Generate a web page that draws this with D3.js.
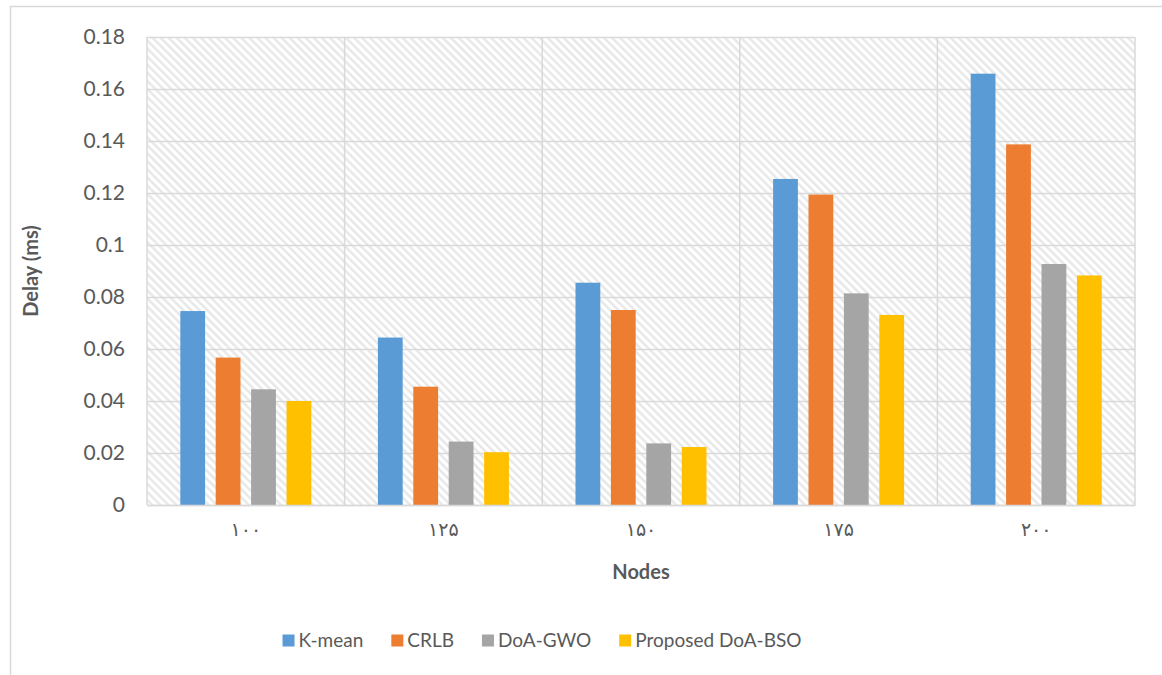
<!DOCTYPE html>
<html><head><meta charset="utf-8">
<script src="https://cdn.jsdelivr.net/npm/d3@7"></script>
<style>
html,body{margin:0;padding:0;background:#fff;}
svg{display:block;}
</style></head>
<body>
<svg id="chart" width="1162" height="675"></svg>
<script>
const categories = ["۱۰۰","۱۲۵","۱۵۰","۱۷۵","۲۰۰"];
const series = ["K-mean","CRLB","DoA-GWO","Proposed DoA-BSO"];
const kmean = [0.0746,0.0644,0.0855,0.1254,0.1659];
const crlb  = [0.0567,0.0455,0.0750,0.1194,0.1387];
const gwo   = [0.0445,0.0244,0.0237,0.0814,0.0927];
const bso   = [0.0400,0.0203,0.0223,0.0731,0.0883];
const yTicks = [0,0.02,0.04,0.06,0.08,0.1,0.12,0.14,0.16,0.18];
const colors = ["#5b9bd5","#ed7d31","#a5a5a5","#ffc000"];
const yTitle = "Delay (ms)";
const xTitle = "Nodes";

const values = [kmean, crlb, gwo, bso];
const svg = d3.select("#chart");
const font = "Lato, 'Open Sans', sans-serif";
const textCol = "#595959";
const gridCol = "#d9d9d9";

// outer chart border
svg.append("rect").attr("x",10.5).attr("y",6.5).attr("width",1200).attr("height",700)
  .attr("fill","#fff").attr("stroke",gridCol).attr("stroke-width",1.5);

const L=147, R=1135, T=37, B=505;
const x0 = d3.scaleBand().domain(categories).range([L,R]).padding(0);
const bw = x0.bandwidth();
const x1 = d3.scaleBand().domain(series).range([bw*0.1685, bw*0.8315]).paddingInner(0.3);
const y = d3.scaleLinear().domain([0,0.18]).range([B,T]);

// hatch pattern
const defs = svg.append("defs");
const pat = defs.append("pattern").attr("id","hatch").attr("patternUnits","userSpaceOnUse")
  .attr("width",5.7).attr("height",5.7).attr("patternTransform","rotate(-45)");
pat.append("rect").attr("width",5.7).attr("height",5.7).attr("fill","#fff");
pat.append("line").attr("x1",1.4).attr("y1",0).attr("x2",1.4).attr("y2",5.7)
  .attr("stroke","#e6e6e6").attr("stroke-width",2.3);

svg.append("rect").attr("x",L).attr("y",T).attr("width",R-L).attr("height",B-T)
  .attr("fill","url(#hatch)");

// horizontal gridlines + y labels
const yAxis = svg.append("g").attr("transform",`translate(${L},0)`)
  .call(d3.axisLeft(y).tickValues(yTicks).tickSize(-(R-L)).tickPadding(22)
    .tickFormat(d => String(+d.toFixed(2))));
yAxis.select(".domain").remove();
yAxis.selectAll(".tick line").attr("stroke",gridCol).attr("stroke-width",1.5);
yAxis.selectAll(".tick text").attr("fill",textCol).style("font-family",font).style("font-size","21px");

// vertical gridlines at category boundaries
const bounds = categories.map(c => x0(c)).concat([R]);
svg.append("g").selectAll("line").data(bounds).join("line")
  .attr("x1",d=>d).attr("x2",d=>d).attr("y1",T).attr("y2",B)
  .attr("stroke",gridCol).attr("stroke-width",1.5);

// bars
const g = svg.append("g");
categories.forEach((c,i) => {
  series.forEach((s,j) => {
    const v = values[j][i];
    g.append("rect")
      .attr("x", x0(c) + x1(s))
      .attr("y", y(v))
      .attr("width", x1.bandwidth())
      .attr("height", y(0) - y(v))
      .attr("fill", colors[j]);
  });
});

// x axis labels
const xAxis = svg.append("g").attr("transform",`translate(0,${B})`)
  .call(d3.axisBottom(x0).tickSize(0).tickPadding(18));
xAxis.select(".domain").attr("stroke",gridCol).attr("stroke-width",1.5);
xAxis.selectAll(".tick text").attr("fill",textCol)
  .style("font-family","'DejaVu Sans', sans-serif").style("font-size","19px");

// axis titles
svg.append("text").attr("transform","translate(38,271) rotate(-90)")
  .attr("text-anchor","middle").attr("fill",textCol)
  .style("font-family",font).style("font-size","20px").style("font-weight","bold")
  .text(yTitle);
svg.append("text").attr("x",(L+R)/2).attr("y",579)
  .attr("text-anchor","middle").attr("fill",textCol)
  .style("font-family",font).style("font-size","20px").style("font-weight","bold")
  .text(xTitle);

// legend
const leg = svg.append("g");
let cx = 0;
series.forEach((s,j) => {
  const it = leg.append("g").attr("transform",`translate(${cx},0)`);
  it.append("rect").attr("x",0).attr("y",-12.5).attr("width",12).attr("height",12).attr("fill",colors[j]);
  const t = it.append("text").attr("x",16).attr("y",0).attr("fill",textCol)
    .style("font-family",font).style("font-size","19px").text(s);
  cx += 16 + t.node().getComputedTextLength() + 28;
});
const legW = cx - 28;
leg.attr("transform",`translate(${542 - legW/2},647)`);
</script>
</body></html>
